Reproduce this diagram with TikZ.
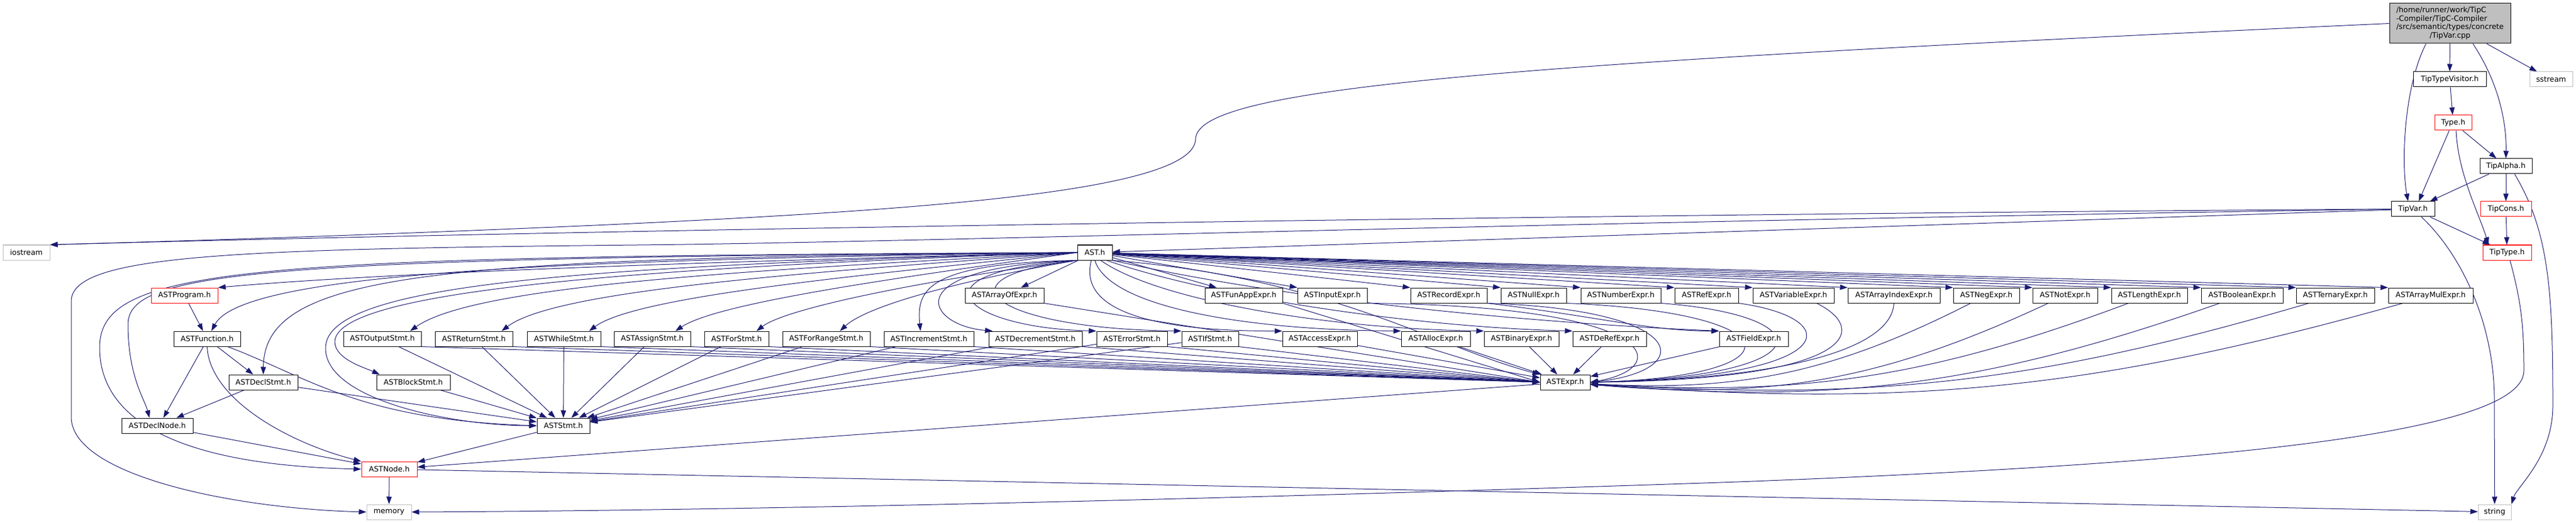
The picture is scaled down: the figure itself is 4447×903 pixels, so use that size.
\documentclass[tikz,border=0pt]{standalone}
\usepackage{fontspec}
\setmainfont{DejaVu Sans}
\usepackage{xcolor}
\usepackage{tikz}
\usetikzlibrary{arrows.meta}
\usetikzlibrary{backgrounds}
\definecolor{edgeblue}{HTML}{191970}
\definecolor{sysgray}{HTML}{BFBFBF}
\newcommand{\nodefont}{\fontsize{6.4pt}{7.35pt}\selectfont}

\begin{document}
\begin{tikzpicture}[x=0.5pt, y=0.5pt,
filenode/.style={rectangle, draw=black, fill=white, line width=0.5pt, inner sep=0pt, minimum height=13pt, font=\nodefont},
truncnode/.style={filenode, draw=red},
sysnode/.style={filenode, draw=sysgray},
mainnode/.style={filenode, fill=sysgray, minimum height=34.5pt},
wd/.style={minimum width=#1*0.5pt},
depline/.style={draw=edgeblue, line width=0.5pt, -{Triangle[length=6.5pt,width=4.5pt]}},
]
\useasboundingbox (0,0) rectangle (4447,-903);

%Nodes
\node[mainnode, wd=209]		(tipvarcpp)		at (4229.5,-40.5)	{\begin{tabular}{@{}l@{}}/home/runner/work/TipC\\-Compiler/TipC-Compiler\\/src/semantic/types/concrete\\\multicolumn{1}{@{}c@{}}{/TipVar.cpp}\end{tabular}};
\node[filenode, wd=126]		(tiptypevisitor)	at (4229,-137)		{TipTypeVisitor.h};
\node[sysnode, wd=74]		(sstream)		at (4404,-137)		{sstream};
\node[truncnode, wd=64]		(typeh)			at (4235,-212)		{Type.h};
\node[filenode, wd=90]		(tipalpha)		at (4326,-287)		{TipAlpha.h};
\node[filenode, wd=75]		(tipvar)		at (4165.5,-361)	{TipVar.h};
\node[truncnode, wd=88]		(tipcons)		at (4326,-361)		{TipCons.h};
\node[sysnode, wd=81]		(iostream)		at (45.5,-436)		{iostream};
\node[filenode, wd=60]		(asth)			at (1890,-436)		{AST.h};
\node[truncnode, wd=84]		(tiptype)		at (4328,-436)		{TipType.h};

\node[truncnode, wd=115]	(astprogram)		at (318.5,-510)		{ASTProgram.h};
\node[filenode, wd=136]		(astarrayof)		at (1734,-510)		{ASTArrayOfExpr.h};
\node[filenode, wd=134]		(astfunapp)		at (2147,-510)		{ASTFunAppExpr.h};
\node[filenode, wd=120]		(astinput)		at (2300,-510)		{ASTInputExpr.h};
\node[filenode, wd=132]		(astrecord)		at (2501,-510)		{ASTRecordExpr.h};
\node[filenode, wd=113]		(astnull)		at (2647.5,-510)	{ASTNullExpr.h};
\node[filenode, wd=138]		(astnumber)		at (2798,-510)		{ASTNumberExpr.h};
\node[filenode, wd=110]		(astref)		at (2946,-510)		{ASTRefExpr.h};
\node[filenode, wd=140]		(astvariable)		at (3096,-510)		{ASTVariableExpr.h};
\node[filenode, wd=159]		(astarrayindex)		at (3269.5,-510)	{ASTArrayIndexExpr.h};
\node[filenode, wd=114]		(astneg)		at (3429,-510)		{ASTNegExpr.h};
\node[filenode, wd=112]		(astnot)		at (3565,-510)		{ASTNotExpr.h};
\node[filenode, wd=131]		(astlength)		at (3710.5,-510)	{ASTLengthExpr.h};
\node[filenode, wd=141]		(astboolean)		at (3870.5,-510)	{ASTBooleanExpr.h};
\node[filenode, wd=135]		(astternary)		at (4031.5,-510)	{ASTTernaryExpr.h};
\node[filenode, wd=146]		(astarraymul)		at (4196,-510)		{ASTArrayMulExpr.h};

\node[filenode, wd=115]		(astfunction)		at (357.5,-585)		{ASTFunction.h};
\node[filenode, wd=134]		(astoutput)		at (660,-585)		{ASTOutputStmt.h};
\node[filenode, wd=134]		(astreturn)		at (818,-585)		{ASTReturnStmt.h};
\node[filenode, wd=127]		(astwhile)		at (973.5,-585)		{ASTWhileStmt.h};
\node[filenode, wd=132]		(astassign)		at (1126,-585)		{ASTAssignStmt.h};
\node[filenode, wd=111]		(astfor)		at (1271.5,-585)	{ASTForStmt.h};
\node[filenode, wd=151]		(astforrange)		at (1426.5,-585)	{ASTForRangeStmt.h};
\node[filenode, wd=155]		(astincrement)		at (1603.5,-585)	{ASTIncrementStmt.h};
\node[filenode, wd=161]		(astdecrement)		at (1787.5,-585)	{ASTDecrementStmt.h};
\node[filenode, wd=122]		(asterror)		at (1954,-585)		{ASTErrorStmt.h};
\node[filenode, wd=98]		(astif)			at (2089,-585)		{ASTIfStmt.h};
\node[filenode, wd=129]		(astaccess)		at (2278.5,-585)	{ASTAccessExpr.h};
\node[filenode, wd=119]		(astalloc)		at (2478.5,-585)	{ASTAllocExpr.h};
\node[filenode, wd=129]		(astbinary)		at (2626.5,-585)	{ASTBinaryExpr.h};
\node[filenode, wd=127]		(astderef)		at (2778.5,-585)	{ASTDeRefExpr.h};
\node[filenode, wd=119]		(astfield)		at (3027.5,-585)	{ASTFieldExpr.h};

\node[filenode, wd=119]		(astdeclstmt)		at (454.5,-660)		{ASTDeclStmt.h};
\node[filenode, wd=127]		(astblock)		at (713.5,-660)		{ASTBlockStmt.h};
\node[filenode, wd=86]		(astexpr)		at (2702,-660)		{ASTExpr.h};
\node[filenode, wd=123]		(astdeclnode)		at (271.5,-735)		{ASTDeclNode.h};
\node[filenode, wd=91]		(aststmt)		at (972.5,-735)		{ASTStmt.h};
\node[truncnode, wd=96]		(astnode)		at (672,-810)		{ASTNode.h};
\node[sysnode, wd=77]		(memory)		at (671.5,-884)		{memory};
\node[sysnode, wd=57]		(string)		at (4306.5,-884)	{string};

%Lines
\begin{scope}[on background layer]
\draw[depline] (tipvarcpp) -- (tiptypevisitor);
\draw[depline] (tipvarcpp) -- (sstream);
\draw[depline] ([xshift=19.75pt]tipvarcpp.south) .. controls (4318,-150) and (4327,-220) .. (tipalpha.north);
\draw[depline] ([xshift=-20.75pt]tipvarcpp.south) .. controls (4150,-150) and (4145,-280) .. ([xshift=-4.25pt]tipvar.north);
\draw[depline] (tipvarcpp.west) .. controls (2600,-110) and (2066,-150) .. (2064,-240) .. controls (2062,-330) and (1600,-362) .. (1050,-388) .. controls (600,-408) and (250,-418) .. (iostream.north east);
\draw[depline] (tiptypevisitor) -- (typeh);
\draw[depline] (typeh) -- (tipalpha);
\draw[depline] ([xshift=-3.5pt]typeh.south) -- ([xshift=5pt]tipvar.north);
\draw[depline] ([xshift=2.5pt]typeh.south) .. controls (4243,-300) and (4280,-370) .. ([xshift=-16pt]tiptype.north);
\draw[depline] (tipalpha) -- (tipvar);
\draw[depline] (tipalpha) -- (tipcons);
\draw[depline] ([xshift=7.5pt]tipalpha.south) .. controls (4400,-400) and (4407,-500) .. (4407,-700) .. controls (4407,-790) and (4345,-840) .. (string.north east);
\draw[depline] (tipcons) -- (tiptype);
\draw[depline] (tipvar) -- (tiptype);
\draw[depline] ([xshift=7.25pt]tipvar.south) .. controls (4250,-440) and (4306,-560) .. (4306,-690) -- (string.north);
\draw[depline] (tipvar) -- (asth);
\draw[depline] (tipvar.west) .. controls (3000,-368) and (1200,-392) .. (iostream.north east);
\draw[depline] (tipvar.west) .. controls (2600,-385) and (1600,-418) .. (1100,-423) .. controls (400,-430) and (123,-440) .. (123,-520) -- (123,-720) .. controls (123,-820) and (400,-878) .. (memory.west);
\draw[depline] ([xshift=2.5pt]tiptype.south) .. controls (4352,-520) and (4357,-560) .. (4357,-640) .. controls (4357,-760) and (3700,-805) .. (3000,-832) .. controls (2000,-866) and (1200,-882) .. (memory.east);

\draw[depline] (asth.west) .. controls (1200,-452) and (650,-472) .. (astprogram.north east);
\draw[depline] (asth.west) .. controls (1000,-448) and (420,-468) .. ([xshift=3.75pt]astfunction.north);
\draw[depline] (asth.west) .. controls (760,-446) and (456,-468) .. (astdeclstmt.north);
\draw[depline] (asth.west) .. controls (450,-445) and (221,-468) .. (221,-560) .. controls (221,-650) and (250,-690) .. ([xshift=-6.75pt]astdeclnode.north);
\draw[depline] (asth.west) .. controls (430,-443) and (172,-458) .. (172,-600) .. controls (172,-780) and (450,-806) .. (astnode.west);
\draw[depline] (asth.west) .. controls (1000,-460) and (565,-490) .. (562,-600) .. controls (560,-690) and (780,-735) .. (aststmt.west);
\draw[depline] (asth.west) .. controls (1000,-465) and (580,-510) .. (578,-590) .. controls (578,-620) and (630,-635) .. ([xshift=3pt]astblock.north west);
\draw[depline] (asth.west) .. controls (1300,-466) and (820,-492) .. ([xshift=24pt]astoutput.north);
\draw[depline] (asth.west) .. controls (1400,-470) and (960,-500) .. ([xshift=24pt]astreturn.north);
\draw[depline] (asth.west) .. controls (1500,-474) and (1100,-510) .. ([xshift=21.75pt]astwhile.north);
\draw[depline] (asth.west) .. controls (1560,-478) and (1240,-522) .. ([xshift=20pt]astassign.north);
\draw[depline] (asth.south west) .. controls (1620,-480) and (1360,-530) .. ([xshift=17.25pt]astfor.north);
\draw[depline] (asth.south west) .. controls (1680,-480) and (1500,-525) .. ([xshift=11.75pt]astforrange.north);
\draw[depline] (asth.south west) .. controls (1600,-455) and (1582,-500) .. ([xshift=-7.25pt]astincrement.north);
\draw[depline] (asth.south west) .. controls (1540,-462) and (1600,-562) .. ([xshift=3.5pt]astdecrement.north west);
\draw[depline] (asth.south west) .. controls (1560,-470) and (1660,-566) .. (asterror.north west);
\draw[depline] (asth.south west) .. controls (1600,-480) and (1720,-568) .. (astif.north west);

\draw[depline] (asth) -- (astarrayof);
\draw[depline] (asth) -- (astfunapp);
\draw[depline] (asth) -- (astinput.north west);
\draw[depline] (asth) -- (astrecord.north west);
\draw[depline] (asth) -- (astnull.north west);
\draw[depline] (asth) -- (astnumber.north west);
\draw[depline] (asth) -- (astref.north west);
\draw[depline] (asth) -- (astvariable.north west);
\draw[depline] (asth) -- (astarrayindex.north west);
\draw[depline] (asth) -- (astneg.north west);
\draw[depline] (asth) -- (astnot.north west);
\draw[depline] (asth) -- (astlength.north west);
\draw[depline] (asth) -- (astboolean.north west);
\draw[depline] (asth) -- (astternary.north west);
\draw[depline] (asth) -- (astarraymul.north west);
\draw[depline] ([xshift=-3pt]asth.south) .. controls (1860,-540) and (2000,-572) .. (astaccess.north west);
\draw[depline] (asth.south) .. controls (1915,-530) and (2150,-570) .. (astalloc.north west);
\draw[depline] ([xshift=5pt]asth.south) .. controls (2000,-520) and (2300,-568) .. (astbinary.north west);
\draw[depline] ([xshift=10pt]asth.south) .. controls (2100,-515) and (2450,-565) .. (astderef.north west);
\draw[depline] (asth.south east) .. controls (2250,-525) and (2700,-560) .. (astfield.north west);
\draw[depline] (asth.south east) .. controls (2300,-480) and (2480,-600) .. (astexpr.north west);

\draw[depline] (astprogram) -- (astfunction);
\draw[depline] ([xshift=-3.25pt]astfunction.south) -- ([xshift=5.25pt]astdeclnode.north);
\draw[depline] (astfunction) -- (astdeclstmt);
\draw[depline] ([xshift=17.75pt]astfunction.south) .. controls (530,-650) and (620,-725) .. (aststmt.west);
\draw[depline] (astfunction.south) .. controls (362,-690) and (500,-765) .. (astnode.north west);
\draw[depline] (astdeclstmt) -- (astdeclnode);
\draw[depline] (astdeclstmt) -- (aststmt);
\draw[depline] (astblock) -- (aststmt);
\draw[depline] (astdeclnode) -- (astnode);
\draw[depline] (aststmt) -- (astnode);
\draw[depline] (astexpr) -- (astnode);
\draw[depline] (astnode) -- (memory);
\draw[depline] (astnode) -- (string);

\draw[depline] (astoutput) -- (aststmt);
\draw[depline] (astreturn) -- (aststmt);
\draw[depline] (astwhile) -- (aststmt);
\draw[depline] (astassign) -- (aststmt);
\draw[depline] (astfor) -- (aststmt);
\draw[depline] (astforrange) -- (aststmt);
\draw[depline] (astincrement) -- (aststmt);
\draw[depline] (astdecrement) -- (aststmt);
\draw[depline] (asterror) -- (aststmt);
\draw[depline] (astif) -- (aststmt);
\draw[depline] (astoutput.south east) -- (astexpr.west);
\draw[depline] (astreturn.south east) -- (astexpr.west);
\draw[depline] (astwhile.south east) -- (astexpr.west);
\draw[depline] (astassign.south east) -- (astexpr.west);
\draw[depline] (astfor.south east) -- (astexpr.west);
\draw[depline] (astforrange.south east) -- (astexpr.west);
\draw[depline] (astincrement.south east) -- (astexpr.west);
\draw[depline] (astdecrement.south east) -- (astexpr.west);
\draw[depline] (asterror.south east) -- (astexpr.west);
\draw[depline] (astif.south east) -- (astexpr.west);

\draw[depline] (astarrayof.south east) -- (astexpr.west);
\draw[depline] (astfunapp.south east) -- (astexpr.west);
\draw[depline] (astaccess) -- (astexpr);
\draw[depline] (astalloc) -- (astexpr);
\draw[depline] (astbinary) -- (astexpr);
\draw[depline] (astderef) -- (astexpr);
\draw[depline] (astfield) -- (astexpr);
\draw[depline] (astrecord.south east) .. controls (2750,-545) and (2850,-572) .. (astfield.north west);
\draw[depline] (astinput.south east) .. controls (2870,-528) and (2890,-635) .. (astexpr.east);
\draw[depline] (astrecord.south east) .. controls (2920,-535) and (2930,-640) .. (astexpr.east);
\draw[depline] (astnull.south east) .. controls (3100,-540) and (3110,-650) .. (astexpr.east);
\draw[depline] (astnumber.south east) .. controls (3150,-545) and (3150,-650) .. (astexpr.east);
\draw[depline] (astref.south east) .. controls (3190,-550) and (3180,-652) .. (astexpr.east);
\draw[depline] ([xshift=20pt]astvariable.south) .. controls (3230,-570) and (3200,-655) .. (astexpr.east);
\draw[depline] (astarrayindex.south) .. controls (3265,-610) and (3050,-655) .. (astexpr.east);
\draw[depline] (astneg) to[bend left=15] (astexpr);
\draw[depline] (astnot) to[bend left=15] (astexpr);
\draw[depline] (astlength) to[bend left=12] (astexpr);
\draw[depline] (astboolean) to[bend left=12] (astexpr);
\draw[depline] (astternary) to[bend left=10] (astexpr);
\draw[depline] (astarraymul) to[bend left=10] (astexpr);
\end{scope}
\end{tikzpicture}
\end{document}
